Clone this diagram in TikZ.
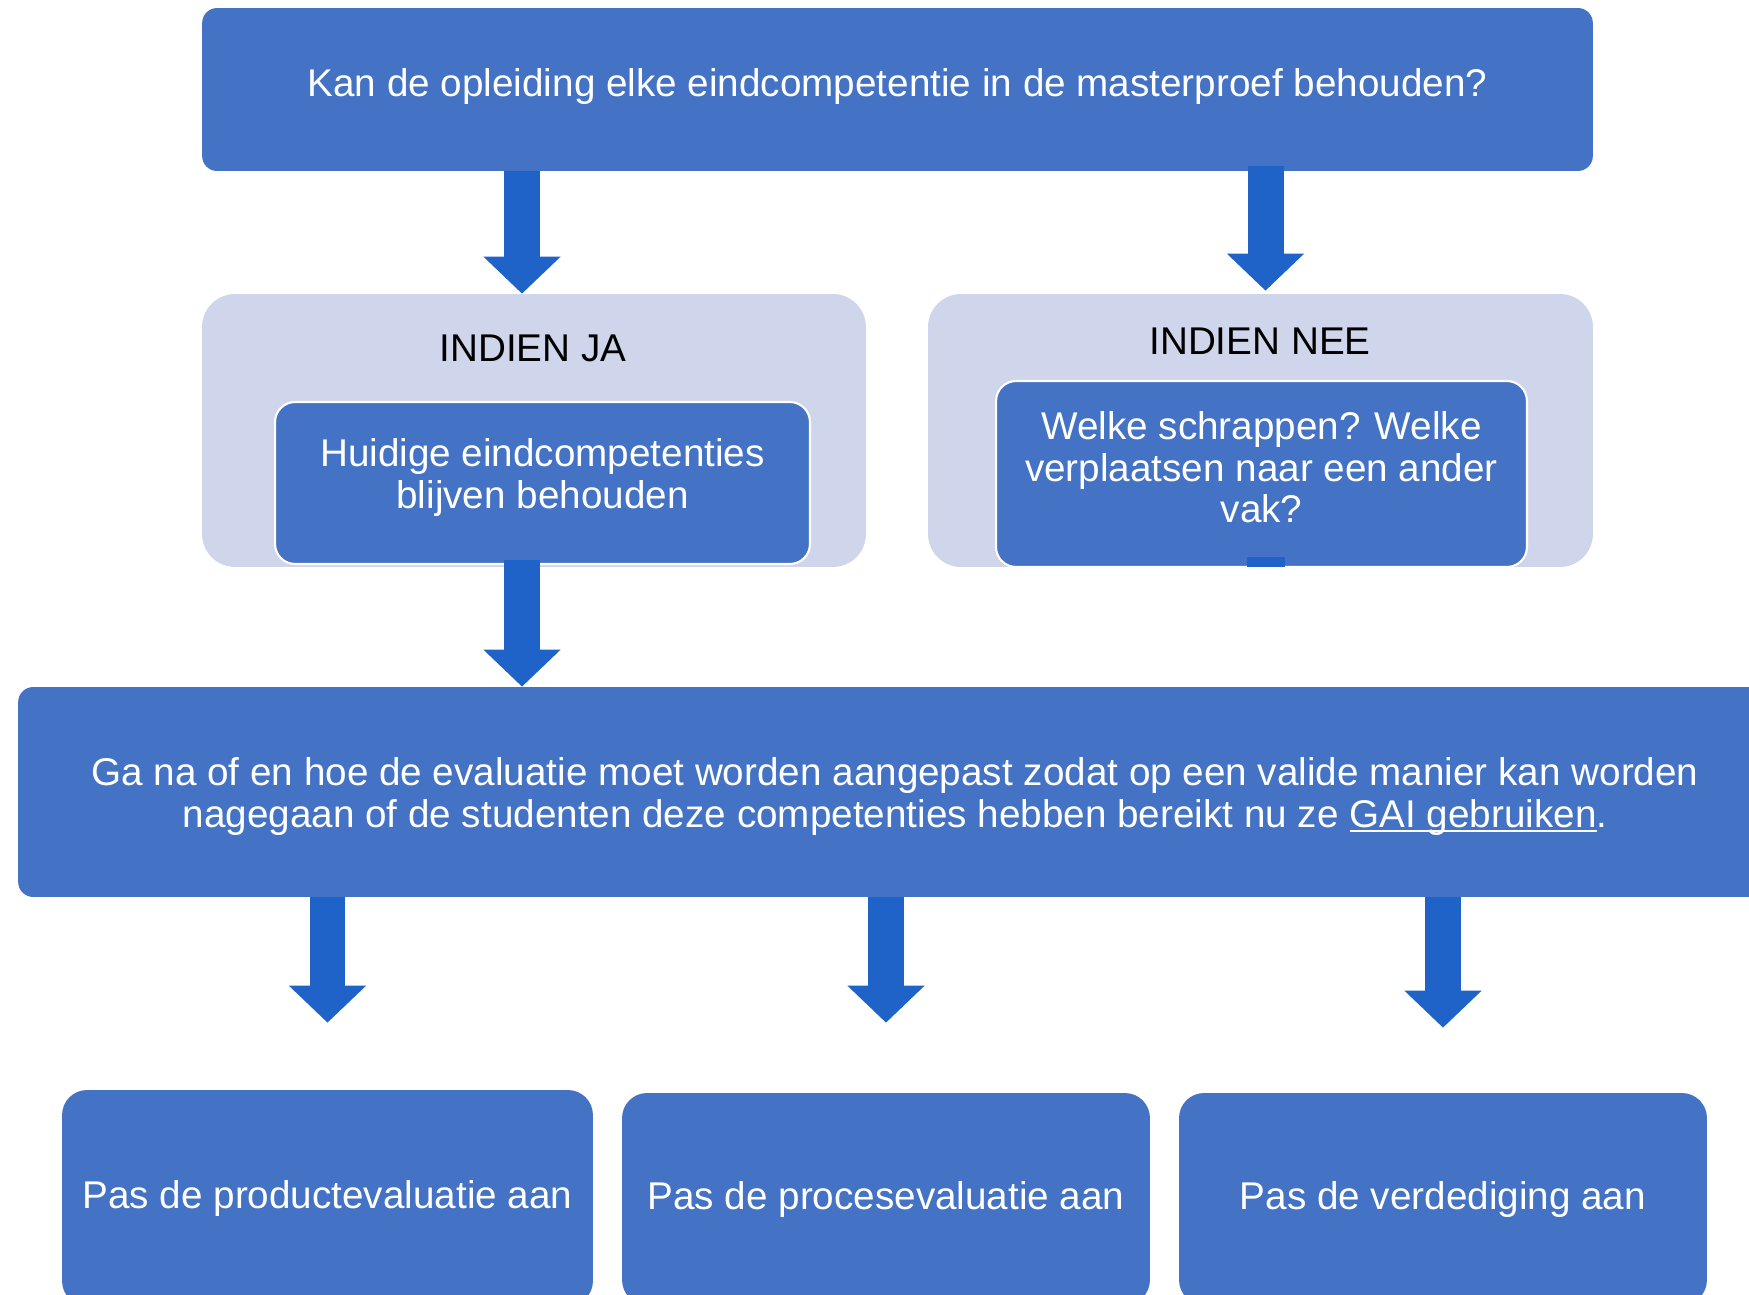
\documentclass[tikz,border=0pt]{standalone}
\usepackage{fontspec}
\setmainfont{Liberation Sans}
\usetikzlibrary{arrows.meta}
\definecolor{boxblue}{RGB}{68,114,196}
\definecolor{paleblue}{RGB}{207,213,234}
\definecolor{arrowblue}{RGB}{31,99,200}
\newcommand\ulthick[1]{\setbox0\hbox{#1}\rlap{\rule[-2.7pt]{\wd0}{1.1pt}}\box0}

\begin{document}
\begin{tikzpicture}[x=0.02cm, y=-0.02cm,
  every node/.style={font=\fontsize{22}{23.5}\selectfont, align=center, inner sep=0pt},
  mainbox/.style={rectangle, rounded corners=0.3cm, fill=boxblue, text=white},
  lightbox/.style={rectangle, rounded corners=0.66cm, fill=paleblue},
  innerbox/.style={mainbox, rounded corners=0.4cm, draw=white, line width=1.2pt},
  lowbox/.style={mainbox, rounded corners=0.5cm},
  boxtext/.style={text=white},
  blockarrow/.style={arrowblue, line width=0.72cm, -{Triangle[length=0.74cm, width=1.5cm]}}]
  \useasboundingbox (0,0) rectangle (1749,1295);
  \clip (0,0) rectangle (1749,1295);
  % question
  \node[mainbox, minimum width=27.82cm, minimum height=3.26cm] (top) at (897.5,89.5) {};
  \node[boxtext] (toptxt) at ([yshift=0.067cm]top.center)
    {Kan de opleiding elke eindcompetentie in de masterproef behouden?};
  % two cases
  \node[lightbox, minimum width=13.28cm, minimum height=5.46cm] (ja) at (534,430.5) {};
  \node[lightbox, minimum width=13.3cm, minimum height=5.46cm] (nee) at (1260.5,430.5) {};
  \node (jalbl) at (533,348) {INDIEN JA};
  \node (neelbl) at (1260,341) {INDIEN NEE};
  \node[innerbox, minimum width=10.7cm, minimum height=3.24cm] (jain) at (542.5,483) {};
  \node[boxtext] (jatxt) at ([yshift=0.11cm]jain.center)
    {Huidige eindcompetenties\\blijven behouden};
  \node[innerbox, minimum width=10.62cm, minimum height=3.72cm] (neein) at (1261.5,474) {};
  \node[boxtext] (neetxt) at ([yshift=0.134cm]neein.center)
    {Welke schrappen? Welke\\verplaatsen naar een ander\\vak?};
  \fill[arrowblue] (1247,557) rectangle (1285,567);
  % evaluation
  \node[mainbox, minimum width=35.08cm, minimum height=4.2cm] (eval) at (895,792) {};
  \node[boxtext] (evaltxt) at ([yshift=-0.09cm]eval.center)
    {Ga na of en hoe de evaluatie moet worden aangepast zodat op een valide manier kan worden\\
     nagegaan of de studenten deze competenties hebben bereikt nu ze \ulthick{GAI gebruiken}.};
  % three actions
  \node[lowbox, minimum width=10.62cm, minimum height=4.32cm] (prod) at (327.5,1198) {Pas de productevaluatie aan};
  \node[lowbox, minimum width=10.56cm, minimum height=4.24cm] (proc) at (886,1199) {Pas de procesevaluatie aan};
  \node[lowbox, minimum width=10.56cm, minimum height=4.24cm] (verd) at (1443,1199) {Pas de verdediging aan};
  % arrows
  \draw[blockarrow] (top.south -| 522,0) -- (ja.north -| 522,0);
  \draw[blockarrow] ([yshift=0.1cm]top.south -| 1265.5,0) -- ([yshift=0.06cm]nee.north -| 1265.5,0);
  \draw[blockarrow] ([yshift=0.1cm]jain.south -| 522,0) -- (eval.north -| 522,0);
  \draw[blockarrow, shorten >=1.34cm] (eval.south -| prod.north) -- (prod.north);
  \draw[blockarrow, shorten >=1.4cm] (eval.south -| proc.north) -- (proc.north);
  \draw[blockarrow, shorten >=1.3cm] (eval.south -| verd.north) -- (verd.north);
\end{tikzpicture}
\end{document}
